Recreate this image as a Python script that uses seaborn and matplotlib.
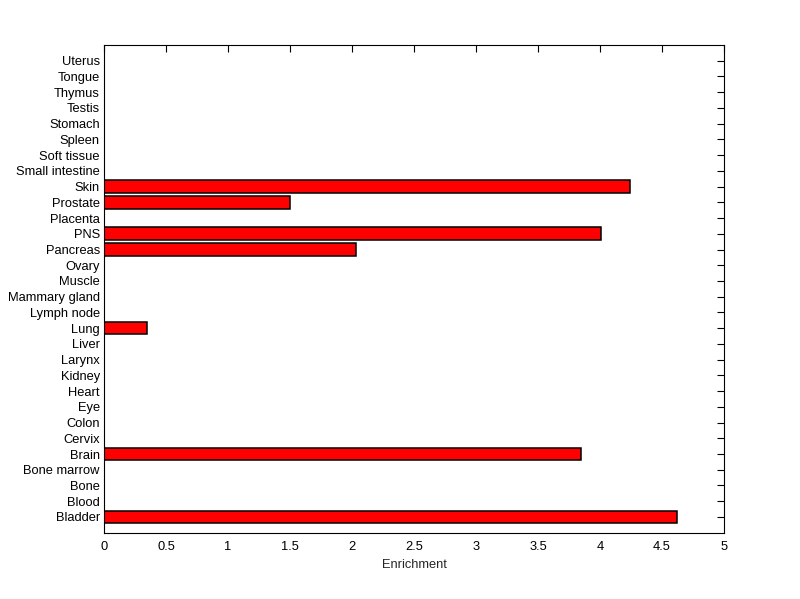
import matplotlib
matplotlib.use("Agg")
import matplotlib.pyplot as plt
import numpy as np
import pandas as pd
import seaborn as sns

# bottom -> top, as in the figure
tissues = ["Bladder", "Blood", "Bone", "Bone marrow", "Brain", "Cervix", "Colon",
           "Eye", "Heart", "Kidney", "Larynx", "Liver", "Lung", "Lymph node",
           "Mammary gland", "Muscle", "Ovary", "Pancreas", "PNS", "Placenta",
           "Prostate", "Skin", "Small intestine", "Soft tissue", "Spleen",
           "Stomach", "Testis", "Thymus", "Tongue", "Uterus"]
enrichment = [4.62, 0, 0, 0, 3.85, 0, 0,
              0, 0, 0, 0, 0, 0.35, 0,
              0, 0, 0, 2.03, 4.01, 0,
              1.50, 4.24, 0, 0, 0,
              0, 0, 0, 0, 0]
xticks = [0, 0.5, 1, 1.5, 2, 2.5, 3, 3.5, 4, 4.5, 5]

df = pd.DataFrame({"tissue": tissues, "enrichment": enrichment})

sns.set_style("white")
plt.rcParams["font.family"] = ["Liberation Sans", "DejaVu Sans"]

fig = plt.figure(figsize=(8, 5.99), dpi=100)
ax = fig.add_axes([0.13, 0.1107, 0.775, 0.8142])

sns.barplot(df, x="enrichment", y="tissue", order=tissues[::-1], orient="h",
            color="red", saturation=1, edgecolor="black", linewidth=1.1,
            width=0.8, ax=ax)

n = len(tissues)
ax.set_ylim(n, -1)
ax.set_xlim(0, 5)
ax.set_xticks(xticks)
ax.set_xticklabels([f"{t:g}" for t in xticks])
ax.set_xlabel("Enrichment", fontsize=9.3, labelpad=4)
ax.set_ylabel("")
ax.tick_params(axis="both", direction="in", length=5, width=0.8, labelsize=9.3,
               top=True, right=True, colors="black", pad=3)
ax.tick_params(axis="x", pad=6)
for s in ax.spines.values():
    s.set_visible(True)
    s.set_color("black")
    s.set_linewidth(0.8)

fig.savefig("out.png", dpi=100, facecolor="white")
